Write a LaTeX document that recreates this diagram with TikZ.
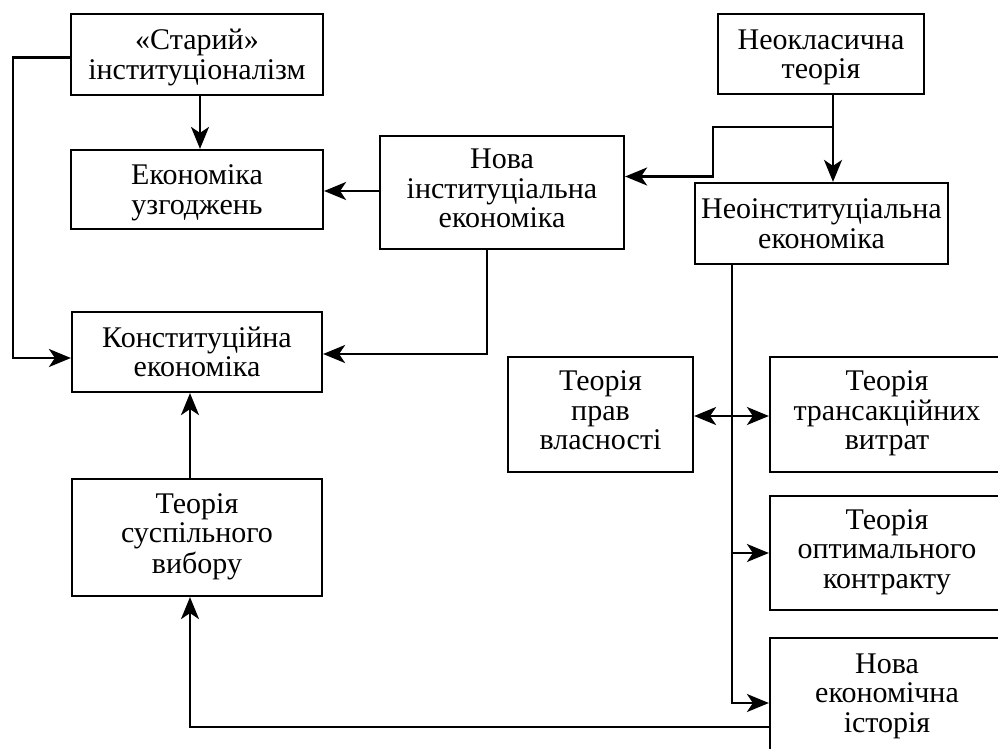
\documentclass[tikz,border=0pt]{standalone}
\usepackage{fontspec}
\setmainfont{Liberation Serif}
\usetikzlibrary{arrows.meta,calc}
\newcommand\twolines[2]{\raisebox{0pt}[\dimexpr\height+8pt\relax]{\begin{tabular}{@{}c@{}}#1\\#2\end{tabular}}}
\newcommand\threelines[3]{\begin{tabular}{@{}c@{}}#1\\#2\\#3\end{tabular}}
\begin{document}
\begin{tikzpicture}[x=1pt,y=-1pt,
  box/.style={draw,line width=2.2pt,inner sep=0pt,
    font=\fontsize{30}{29.5}\selectfont},
  arr/.style={line width=2.2pt,-{Stealth[length=22pt,width=18pt,inset=6pt]}},
  dbl/.style={line width=2.2pt,{Stealth[length=22pt,width=18pt,inset=6pt]}-{Stealth[length=22pt,width=18pt,inset=6pt]}}]
\useasboundingbox (0,0) rectangle (998,749);
\node[box,minimum width=252pt,minimum height=81pt] (old) at (197,54.5) {\twolines{«Старий»}{інституціоналізм}};
\node[box,minimum width=252pt,minimum height=79pt] (agree) at (197,189.5) {\twolines{Економіка}{узгоджень}};
\node[box,minimum width=244pt,minimum height=113pt] (newinst) at (502,192.5) {\threelines{Нова}{інституціальна}{економіка}};
\node[box,minimum width=206pt,minimum height=80pt] (neocl) at (821,54) {\twolines{Неокласична}{теорія}};
\node[box,minimum width=253pt,minimum height=81pt] (neoinst) at (821.5,223.5) {\twolines{Неоінституціальна}{економіка}};
\node[box,minimum width=250pt,minimum height=80pt] (const) at (197,352) {\twolines{Конституційна}{економіка}};
\node[box,minimum width=250pt,minimum height=117pt] (pubch) at (197,537.5) {\threelines{Теорія}{суспільного}{вибору}};
\node[box,minimum width=185pt,minimum height=115pt] (prop) at (600.5,414.5) {\threelines{Теорія}{прав}{власності}};
\node[box,minimum width=234pt,minimum height=115pt] (trans) at (887,414.5) {\threelines{Теорія}{трансакційних}{витрат}};
\node[box,minimum width=234pt,minimum height=114pt] (optim) at (887,553) {\threelines{Теорія}{оптимального}{контракту}};
\node[box,minimum width=234pt,minimum height=118pt] (hist) at (887,697) {\threelines{Нова}{економічна}{історія}};
% connectors
\draw[arr] ([xshift=3pt]old.south) -- ([xshift=3pt]old.south |- agree.north);
\draw[arr] ([yshift=-3pt]old.west) -- ++(-57pt,0) |- ([yshift=-6pt]const.west);
\draw[arr] ([yshift=1.5pt]newinst.west) -- ([yshift=1.5pt]newinst.west -| agree.east);
\draw[arr] ([xshift=-15pt]newinst.south) |- ([yshift=-2pt]const.east);
\coordinate (nc) at ([xshift=12pt]neocl.south);
\coordinate (br) at ($(nc)+(0,32)$);
\coordinate (jog) at ($(br)+(-120,0)$);
\draw[arr] (nc) -- (nc |- neoinst.north);
\draw[arr] (br) -- (jog) |- ([yshift=16pt]newinst.east);
\draw[arr] ([xshift=-7pt]pubch.north) -- ([xshift=-7pt]pubch.north |- const.south);
\draw[arr] ([yshift=-30pt]hist.west) -| ([xshift=-7pt]pubch.south);
\coordinate (vt) at ([xshift=-89.5pt]neoinst.south);
\draw[arr] (vt) |- ([yshift=-6pt]hist.west);
\draw[arr] (vt |- optim.west) -- (optim.west);
\draw[dbl] ([yshift=-1.5pt]prop.east) -- ([yshift=-1.5pt]trans.west);
\end{tikzpicture}
\end{document}
